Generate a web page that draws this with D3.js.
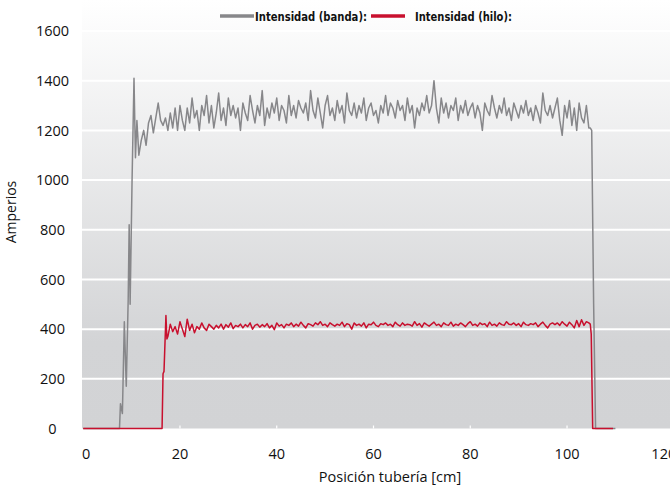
<!DOCTYPE html>
<html>
<head>
<meta charset="utf-8">
<script src="https://cdn.jsdelivr.net/npm/d3@7"></script>
<style>
  body { margin: 0; background: #fff; }
  svg { display: block; }
</style>
</head>
<body>
<div id="chart"></div>
<script>
// Datos (posicion en cm, amperios)
const xTicks = [0, 20, 40, 60, 80, 100, 120];
const yTicks = [0, 200, 400, 600, 800, 1000, 1200, 1400, 1600];

// Intensidad (banda): arranque, tramo muestreado cada 0.5 cm, caida
const bandaInicio = [[0, 0], [7.5, 0], [7.7, 100], [8.1, 60], [8.5, 430], [8.9, 170], [9.3, 520], [9.5, 820], [9.7, 500], [10.1, 1000], [10.5, 1410], [10.8, 1090], [11.1, 1240]];
const bandaX0 = 11.5;
const bandaPaso = 0.5;
const bandaValores = [
  1100, 1160, 1200, 1140, 1230, 1260, 1190, 1250, 1310, 1240,
  1220, 1250, 1200, 1270, 1210, 1290, 1200, 1300, 1240, 1200,
  1290, 1230, 1330, 1250, 1280, 1200, 1300, 1260, 1340, 1230,
  1300, 1210, 1270, 1350, 1240, 1290, 1220, 1330, 1260, 1300,
  1250, 1290, 1200, 1310, 1270, 1240, 1340, 1280, 1230, 1300,
  1260, 1360, 1220, 1290, 1250, 1310, 1270, 1330, 1240, 1300,
  1280, 1230, 1340, 1260, 1300, 1250, 1320, 1290, 1270, 1310,
  1240, 1360, 1280, 1250, 1330, 1270, 1210, 1300, 1340, 1260,
  1290, 1240, 1320, 1270, 1300, 1230, 1350, 1280, 1260, 1310,
  1250, 1300, 1270, 1330, 1240, 1290, 1310, 1260, 1280, 1230,
  1300, 1270, 1340, 1260, 1310, 1290, 1250, 1320, 1280, 1300,
  1240, 1330, 1270, 1300, 1210, 1290, 1260, 1310, 1280, 1340,
  1270, 1300, 1400, 1290, 1230, 1330, 1270, 1310, 1250, 1300,
  1280, 1330, 1240, 1300, 1270, 1320, 1260, 1290, 1310, 1250,
  1300, 1270, 1200, 1310, 1280, 1260, 1340, 1290, 1250, 1300,
  1270, 1330, 1260, 1290, 1240, 1310, 1280, 1250, 1300, 1270,
  1320, 1260, 1290, 1240, 1300, 1270, 1230, 1350, 1280, 1260,
  1300, 1250, 1290, 1330, 1240, 1180, 1300, 1250, 1320, 1220,
  1290, 1200, 1310, 1250, 1230, 1300, 1210
];
const bandaFinal = [[104.8, 1210], [105.1, 1200], [105.5, 500], [105.9, 0], [110, 0]];

// Intensidad (hilo)
const hiloInicio = [[0, 0], [16.3, 0], [16.5, 220], [16.7, 230], [17.1, 455], [17.3, 360]];
const hiloX0 = 17.5;
const hiloPaso = 0.5;
const hiloValores = [
  370, 420, 390, 410, 380, 430, 400, 370, 440, 395,
  420, 385, 410, 400, 425, 405, 395, 420, 410, 400,
  415, 405, 420, 400, 418, 408, 425, 402, 415, 410,
  420, 405, 418, 410, 425, 400, 415, 420, 408, 418,
  410, 422, 405, 415, 398, 425, 412, 418, 405, 420,
  415, 425, 410, 420, 412, 428, 415, 405, 422, 418,
  412, 425, 418, 430, 415, 420, 410, 425, 418, 412,
  420, 415, 428, 410, 422, 418, 400, 425, 415, 420,
  412, 425, 405, 420, 418, 428, 415, 410, 422, 418,
  425, 415, 420, 410, 428, 418, 412, 425, 415, 420,
  418, 412, 430, 415, 422, 408, 425, 418, 412, 420,
  428, 415, 420, 410, 425, 418, 415, 428, 412, 420,
  415, 425, 418, 410, 422, 430, 415, 420, 412, 425,
  418, 422, 410, 428, 415, 420, 412, 425, 418, 415,
  430, 420, 418, 425, 415, 422, 410, 428, 418, 415,
  422, 418, 425, 410, 420, 428, 415, 405, 420, 425,
  418, 425, 415, 430, 420, 412, 428, 418, 405, 435,
  410, 438, 415, 430, 425
];
const hiloFinal = [[104.8, 420], [105.0, 380], [105.3, 0], [109.5, 0]];

function serie(inicio, x0, paso, valores, fin) {
  const muestras = valores.map((v, i) => [x0 + i * paso, v]);
  return inicio.concat(muestras, fin);
}

function drawChart() {
  const width = 670;
  const height = 486;
  const plotLeft = 82, plotRight = 670, plotTop = 0, plotBottom = 428.5;

  const x = d3.scaleLinear().domain([0, 120]).range([83.2, 663.8]);
  const y = d3.scaleLinear().domain([0, 1600]).range([428.5, 31]);

  const svg = d3.select("#chart")
    .append("svg")
    .attr("width", width)
    .attr("height", height)
    .attr("viewBox", [0, 0, width, height]);

  const grad = svg.append("defs").append("linearGradient")
    .attr("id", "fondo")
    .attr("x1", 0).attr("y1", 0).attr("x2", 0).attr("y2", 1);
  grad.append("stop").attr("offset", "0%").attr("stop-color", "#ffffff");
  grad.append("stop").attr("offset", "80%").attr("stop-color", "#d3d4d6");
  grad.append("stop").attr("offset", "100%").attr("stop-color", "#d2d3d5");

  svg.append("rect")
    .attr("x", plotLeft)
    .attr("y", plotTop)
    .attr("width", plotRight - plotLeft)
    .attr("height", plotBottom - plotTop)
    .attr("fill", "url(#fondo)");

  // lineas horizontales blancas
  svg.append("g")
    .selectAll("line")
    .data(yTicks.filter(d => d > 0))
    .join("line")
    .attr("x1", plotLeft)
    .attr("x2", plotRight)
    .attr("y1", d => y(d))
    .attr("y2", d => y(d))
    .attr("stroke", "#ffffff")
    .attr("stroke-width", 2);

  // marcas del eje x
  svg.append("g")
    .selectAll("line")
    .data(xTicks.slice(1, -1))
    .join("line")
    .attr("x1", d => x(d))
    .attr("x2", d => x(d))
    .attr("y1", plotBottom - 3)
    .attr("y2", plotBottom)
    .attr("stroke", "#ffffff")
    .attr("stroke-width", 1.2);

  const font = "'Open Sans', 'Noto Sans', sans-serif";

  svg.append("g")
    .selectAll("text")
    .data(yTicks)
    .join("text")
    .attr("x", 52.5)
    .attr("y", d => y(d))
    .attr("dy", "0.36em")
    .attr("text-anchor", "middle")
    .attr("font-family", font)
    .attr("font-size", 14.5)
    .attr("fill", "#111")
    .text(d => d);

  svg.append("g")
    .selectAll("text")
    .data(xTicks)
    .join("text")
    .attr("x", d => d === 0 ? x(d) + 3 : x(d))
    .attr("y", 459)
    .attr("text-anchor", "middle")
    .attr("font-family", font)
    .attr("font-size", 14.5)
    .attr("fill", "#111")
    .text(d => d);

  svg.append("text")
    .attr("x", 390)
    .attr("y", 482)
    .attr("text-anchor", "middle")
    .attr("font-family", font)
    .attr("font-size", 14.5)
    .attr("fill", "#111")
    .text("Posición tubería [cm]");

  svg.append("text")
    .attr("transform", "translate(16,212) rotate(-90)")
    .attr("text-anchor", "middle")
    .attr("font-family", font)
    .attr("font-size", 14)
    .attr("fill", "#111")
    .text("Amperios");

  const line = d3.line().x(d => x(d[0])).y(d => y(d[1]));

  svg.append("path")
    .datum(serie(bandaInicio, bandaX0, bandaPaso, bandaValores, bandaFinal))
    .attr("fill", "none")
    .attr("stroke", "#87878a")
    .attr("stroke-width", 1.5)
    .attr("stroke-linejoin", "round")
    .attr("d", line);

  svg.append("path")
    .datum(serie(hiloInicio, hiloX0, hiloPaso, hiloValores, hiloFinal))
    .attr("fill", "none")
    .attr("stroke", "#c8102e")
    .attr("stroke-width", 1.5)
    .attr("stroke-linejoin", "round")
    .attr("d", line);

  // leyenda
  const legFont = "'DejaVu Sans Condensed', 'Liberation Sans Narrow', sans-serif";
  const leyenda = [
    { nombre: "Intensidad (banda):", color: "#87878a", x1: 220, x2: 254, tx: 255, ancho: 112 },
    { nombre: "Intensidad (hilo):", color: "#c8102e", x1: 371, x2: 405, tx: 415, ancho: 97 }
  ];
  const lg = svg.append("g");
  lg.selectAll("line")
    .data(leyenda)
    .join("line")
    .attr("x1", d => d.x1)
    .attr("x2", d => d.x2)
    .attr("y1", 16)
    .attr("y2", 16)
    .attr("stroke", d => d.color)
    .attr("stroke-width", 3.5);
  lg.selectAll("text")
    .data(leyenda)
    .join("text")
    .attr("x", d => d.tx)
    .attr("y", 21)
    .attr("font-family", legFont)
    .attr("font-weight", "bold")
    .attr("font-size", 12.5)
    .attr("textLength", d => d.ancho)
    .attr("lengthAdjust", "spacingAndGlyphs")
    .attr("fill", "#111")
    .text(d => d.nombre);
}

document.addEventListener('DOMContentLoaded', () => {
  drawChart();
});
</script>
</body>
</html>
